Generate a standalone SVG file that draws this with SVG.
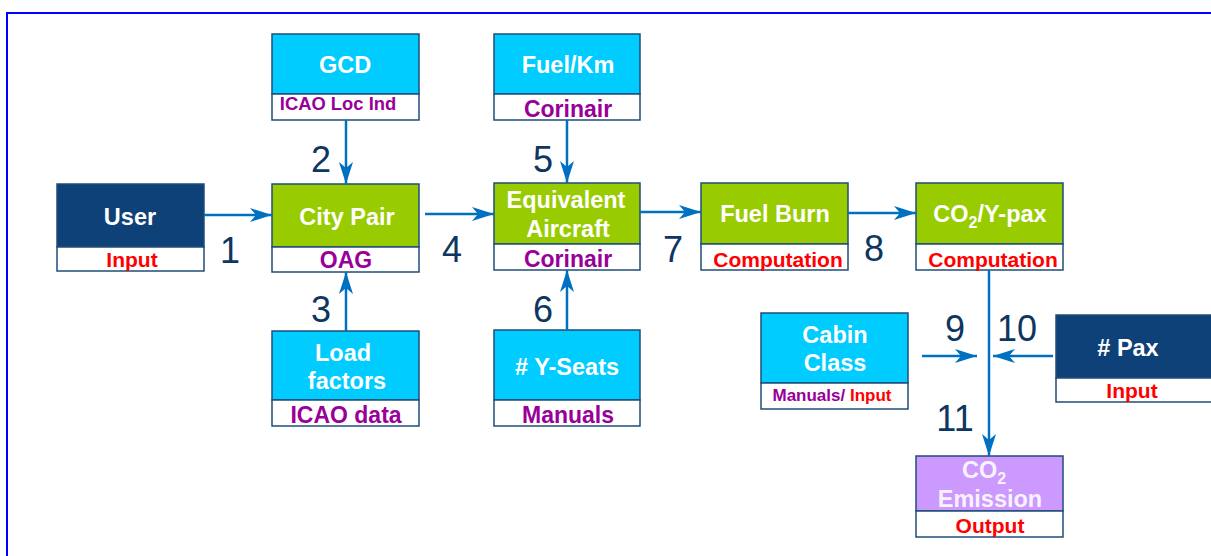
<svg xmlns="http://www.w3.org/2000/svg" width="1211" height="556" viewBox="0 0 1211 556">
<defs>
<marker id="ah" markerUnits="userSpaceOnUse" viewBox="0 0 22 16" refX="22" refY="8" markerWidth="22" markerHeight="16" orient="auto">
<path d="M0,1 L22,8 L0,15 L6,8 Z" fill="#0070c0"/>
</marker>
</defs>
<style>
text{font-family:"Liberation Sans",Arial,sans-serif;font-weight:bold;text-anchor:middle}
.box{stroke:#1f4e79;stroke-width:1.5}
.cy{fill:#00ccff}.gr{fill:#99cc00}.nv{fill:#0e4178}.lv{fill:#cc99ff}.wh{fill:#ffffff}
.t{fill:#ffffff;font-size:23.5px}
.p{fill:#990099;font-size:23px}
.r{fill:#ff0000;font-size:21px}
.n{fill:#0d3660;font-size:36px;font-weight:normal}
.c{stroke:#0070c0;stroke-width:2.5;fill:none;marker-end:url(#ah)}
</style>
<rect x="0" y="0" width="1211" height="556" fill="#ffffff"/>
<rect x="7" y="13" width="1300" height="600" fill="none" stroke="#0000ff" stroke-width="2"/>

<g id="user">
<rect class="box nv" x="57" y="184" width="147" height="63"/>
<rect class="box wh" x="57" y="247" width="147" height="24"/>
<text class="t" x="130" y="225">User</text>
<text class="r" x="132" y="267">Input</text>
</g>

<g id="gcd">
<rect class="box cy" x="272" y="34" width="147" height="60"/>
<rect class="box wh" x="272" y="94" width="147" height="26"/>
<text class="t" x="345" y="73">GCD</text>
<text class="p" x="338" y="110" style="font-size:18.4px">ICAO Loc Ind</text>
</g>

<g id="citypair">
<rect class="box gr" x="272" y="184" width="147" height="63"/>
<rect class="box wh" x="272" y="247" width="147" height="25"/>
<text class="t" x="347" y="225">City Pair</text>
<text class="p" x="346" y="268">OAG</text>
</g>

<g id="loadfactors">
<rect class="box cy" x="272" y="331" width="147" height="69"/>
<rect class="box wh" x="272" y="400" width="147" height="26"/>
<text class="t" x="343" y="361">Load</text>
<text class="t" x="347" y="389">factors</text>
<text class="p" x="346" y="423">ICAO data</text>
</g>

<g id="fuelkm">
<rect class="box cy" x="494" y="34" width="146" height="60"/>
<rect class="box wh" x="494" y="94" width="146" height="26"/>
<text class="t" x="568" y="73">Fuel/Km</text>
<text class="p" x="568" y="117">Corinair</text>
</g>

<g id="equivalent">
<rect class="box gr" x="494" y="183" width="146" height="61"/>
<rect class="box wh" x="494" y="244" width="146" height="26"/>
<text class="t" x="566" y="208">Equivalent</text>
<text class="t" x="568" y="237">Aircraft</text>
<text class="p" x="568" y="267">Corinair</text>
</g>

<g id="yseats">
<rect class="box cy" x="494" y="330" width="146" height="70"/>
<rect class="box wh" x="494" y="400" width="146" height="26"/>
<text class="t" x="567" y="375"># Y-Seats</text>
<text class="p" x="568" y="423">Manuals</text>
</g>

<g id="fuelburn">
<rect class="box gr" x="701" y="183" width="147" height="61"/>
<rect class="box wh" x="701" y="244" width="147" height="26"/>
<text class="t" x="775" y="222">Fuel Burn</text>
<text class="r" x="778" y="267">Computation</text>
</g>

<g id="co2ypax">
<rect class="box gr" x="916" y="183" width="147" height="61"/>
<rect class="box wh" x="916" y="244" width="147" height="26"/>
<text class="t" x="990" y="222">CO<tspan font-size="16" dy="6">2</tspan><tspan dy="-6">/Y-pax</tspan></text>
<text class="r" x="993" y="267">Computation</text>
</g>

<g id="cabinclass">
<rect class="box cy" x="761" y="313" width="147" height="70"/>
<rect class="box wh" x="761" y="383" width="147" height="26"/>
<text class="t" x="835" y="343">Cabin</text>
<text class="t" x="835" y="371">Class</text>
<text x="832" y="401" style="font-size:17px"><tspan fill="#990099">Manuals/ </tspan><tspan fill="#ff0000">Input</tspan></text>
</g>

<g id="pax">
<rect class="box nv" x="1056" y="315" width="170" height="63"/>
<rect class="box wh" x="1056" y="378" width="170" height="24"/>
<text class="t" x="1128" y="356"># Pax</text>
<text class="r" x="1132" y="398">Input</text>
</g>

<g id="emission">
<rect class="box lv" x="916" y="456" width="147" height="55"/>
<rect class="box wh" x="916" y="511" width="147" height="26"/>
<text class="t" x="984" y="478" fill-opacity="0.9">CO<tspan font-size="16" dy="6">2</tspan></text>
<text class="t" x="990" y="507" fill-opacity="0.9">Emission</text>
<text class="r" x="990" y="533">Output</text>
</g>

<g id="connectors">
<line class="c" x1="204" y1="215" x2="272" y2="215"/>
<line class="c" x1="346" y1="120" x2="346" y2="184"/>
<line class="c" x1="346" y1="331" x2="346" y2="272"/>
<line class="c" x1="425" y1="214" x2="494" y2="214"/>
<line class="c" x1="567" y1="120" x2="567" y2="183"/>
<line class="c" x1="567" y1="330" x2="567" y2="270"/>
<line class="c" x1="640" y1="212" x2="701" y2="212"/>
<line class="c" x1="848" y1="213" x2="916" y2="213"/>
<line class="c" x1="989" y1="270" x2="989" y2="456"/>
<line class="c" x1="922" y1="356" x2="977" y2="356"/>
<line class="c" x1="1053" y1="356" x2="993" y2="356"/>
</g>

<g id="labels">
<text class="n" x="230" y="263">1</text>
<text class="n" x="321" y="172">2</text>
<text class="n" x="321" y="322">3</text>
<text class="n" x="452" y="262">4</text>
<text class="n" x="543" y="172">5</text>
<text class="n" x="543" y="322">6</text>
<text class="n" x="673" y="262">7</text>
<text class="n" x="874" y="261">8</text>
<text class="n" x="955" y="341">9</text>
<text class="n" x="1017" y="341">10</text>
<text class="n" x="955" y="431">11</text>
</g>
</svg>
